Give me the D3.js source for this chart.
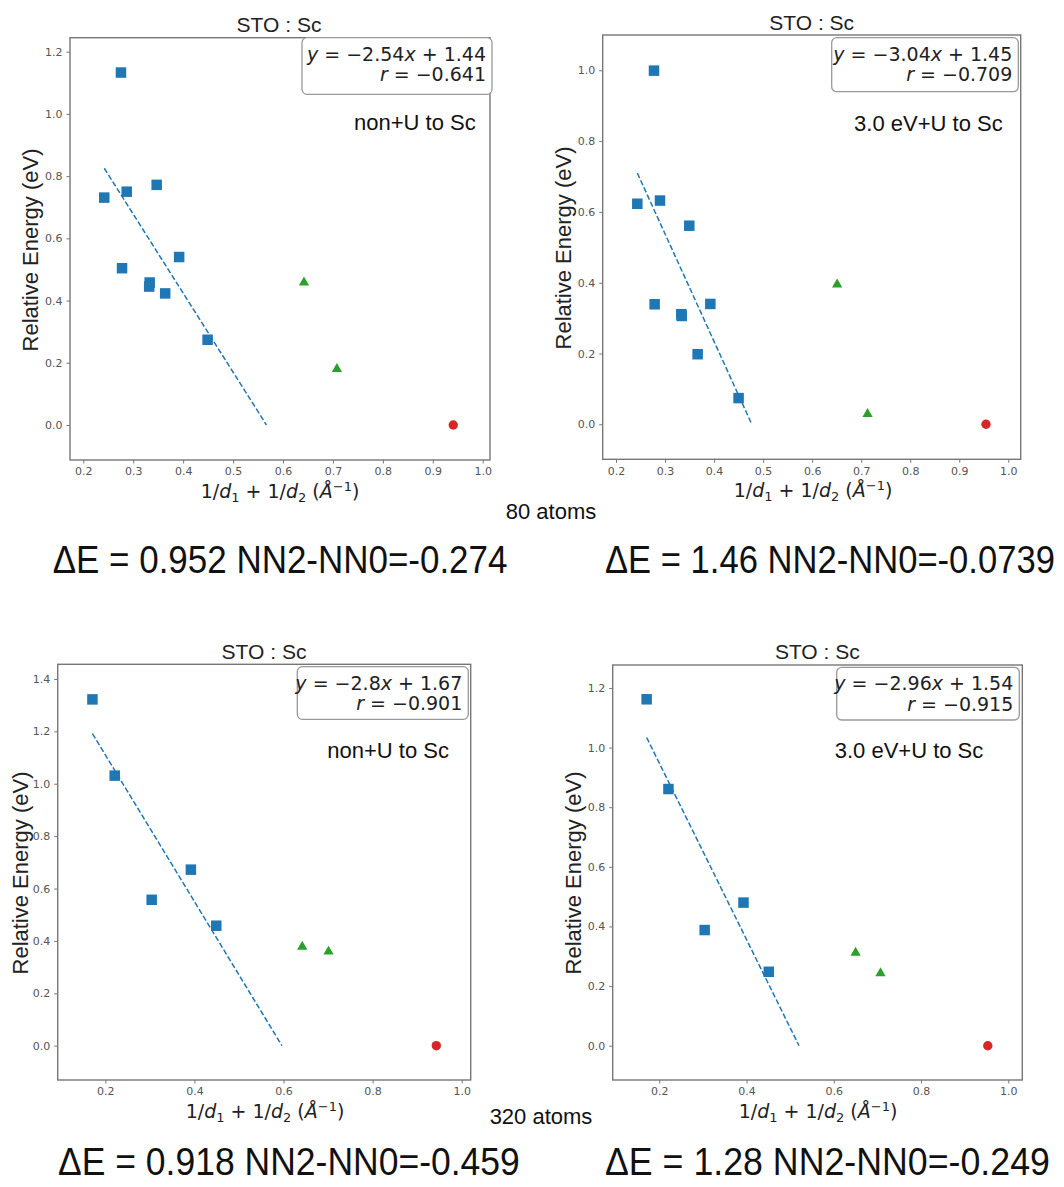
<!DOCTYPE html>
<html>
<head>
<meta charset="utf-8">
<script src="https://cdn.jsdelivr.net/npm/d3@7"></script>
<style>
  body { margin: 0; background: #fff; }
  svg { display: block; }
</style>
</head>
<body>
<div id="chart"></div>
<script>
// ---- data ----
const panelTitle = 'STO : Sc'
const methodLabels = ['non+U to Sc', '3.0 eV+U to Sc', 'non+U to Sc', '3.0 eV+U to Sc']
const atomLabels = ['80 atoms', '320 atoms']
const deltaTexts = [
  'ΔE = 0.952 NN2-NN0=-0.274',
  'ΔE = 1.46 NN2-NN0=-0.0739',
  'ΔE = 0.918 NN2-NN0=-0.459',
  'ΔE = 1.28 NN2-NN0=-0.249'
]

const slopes = [-2.54, -3.04, -2.8, -2.96]
const intercepts = [1.44, 1.45, 1.67, 1.54]
const rValues = ['−0.641', '−0.709', '−0.901', '−0.915']

const xTicks80 = [0.2, 0.3, 0.4, 0.5, 0.6, 0.7, 0.8, 0.9, 1.0]
const xTicks320 = [0.2, 0.4, 0.6, 0.8, 1.0]
const yTicks1 = [0, 0.2, 0.4, 0.6, 0.8, 1.0, 1.2]
const yTicks2 = [0, 0.2, 0.4, 0.6, 0.8, 1.0]
const yTicks3 = [0, 0.2, 0.4, 0.6, 0.8, 1.0, 1.2, 1.4]
const yTicks4 = [0, 0.2, 0.4, 0.6, 0.8, 1.0, 1.2]

// 80 atoms, non+U
const sqX1 = [0.2755, 0.242, 0.287, 0.347, 0.2776, 0.333, 0.332, 0.364, 0.392, 0.449]
const sqY1 = [1.133, 0.731, 0.750, 0.772, 0.504, 0.458, 0.445, 0.423, 0.540, 0.274]
const triX1 = [0.642, 0.708]
const triY1 = [0.458, 0.180]
const dotX1 = [0.941]
const dotY1 = [0]

// 80 atoms, 3.0 eV+U
const sqX2 = [0.2775, 0.2435, 0.2897, 0.3495, 0.2788, 0.3332, 0.334, 0.3665, 0.3924, 0.450]
const sqY2 = [0.999, 0.623, 0.632, 0.561, 0.339, 0.311, 0.306, 0.198, 0.340, 0.074]
const triX2 = [0.651, 0.713]
const triY2 = [0.395, 0.029]
const dotX2 = [0.9545]
const dotY2 = [0]

// 320 atoms, non+U
const sqX3 = [0.171, 0.221, 0.304, 0.392, 0.449]
const sqY3 = [1.322, 1.031, 0.557, 0.672, 0.458]
const triX3 = [0.642, 0.701]
const triY3 = [0.378, 0.359]
const dotX3 = [0.943]
const dotY3 = [0]

// 320 atoms, 3.0 eV+U
const sqX4 = [0.171, 0.221, 0.304, 0.393, 0.451]
const sqY4 = [1.162, 0.861, 0.388, 0.480, 0.248]
const triX4 = [0.650, 0.707]
const triY4 = [0.312, 0.243]
const dotX4 = [0.953]
const dotY4 = [0]

// ---- layout ----
const W = 1064, H = 1187
const blue = '#1f77b4', green = '#2ca02c', red = '#d62728'
const sans = '"Liberation Sans", Arial, Helvetica, sans-serif'
const math = '"DejaVu Sans", sans-serif'

const svg = d3.select('#chart')
  .append('svg')
  .attr('width', W)
  .attr('height', H)

const panels = [
  { l: 70, t: 37.7, r: 490, b: 460, xd: [0.1734, 1.0146], yd: [-0.1125, 1.245], xt: xTicks80, yt: yTicks1,
    sqX: sqX1, sqY: sqY1, triX: triX1, triY: triY1, dotX: dotX1, dotY: dotY1,
    titleX: 279, titleY: 31.5, box: [302, 37.7, 492, 94.3], noteX: 475.7, noteY: 130,
    ylabX: 37.5, ylabY: 250, xlabX: 280, xlabY: 498 },
  { l: 602.7, t: 35, r: 1020.7, b: 459.3, xd: [0.1729, 1.0253], yd: [-0.0989, 1.0997], xt: xTicks80, yt: yTicks2,
    sqX: sqX2, sqY: sqY2, triX: triX2, triY: triY2, dotX: dotX2, dotY: dotY2,
    titleX: 811.7, titleY: 30, box: [831.7, 37.7, 1018.3, 91.7], noteX: 1002.7, noteY: 130.7,
    ylabX: 570.8, ylabY: 248, xlabX: 813, xlabY: 497 },
  { l: 57.7, t: 664.3, r: 470.7, b: 1080, xd: [0.093, 1.0202], yd: [-0.131, 1.456], xt: xTicks320, yt: yTicks3,
    sqX: sqX3, sqY: sqY3, triX: triX3, triY: triY3, dotX: dotX3, dotY: dotY3,
    titleX: 264, titleY: 659.3, box: [297.3, 666.7, 468.3, 719.3], noteX: 449, noteY: 757.7,
    ylabX: 27.5, ylabY: 873, xlabX: 265, xlabY: 1118 },
  { l: 612.7, t: 665, r: 1022.3, b: 1080, xd: [0.0932, 1.0321], yd: [-0.115, 1.277], xt: xTicks320, yt: yTicks4,
    sqX: sqX4, sqY: sqY4, triX: triX4, triY: triY4, dotX: dotX4, dotY: dotY4,
    titleX: 817.3, titleY: 659.3, box: [836.7, 667.3, 1019.3, 720], noteX: 983.3, noteY: 757.7,
    ylabX: 581, ylabY: 873, xlabX: 818, xlabY: 1118 }
]

const fmt = d3.format('.1f')

panels.forEach((p, i) => {
  const x = d3.scaleLinear().domain(p.xd).range([p.l, p.r])
  const y = d3.scaleLinear().domain(p.yd).range([p.b, p.t])
  const g = svg.append('g')

  // frame
  g.append('rect')
    .attr('x', p.l).attr('y', p.t)
    .attr('width', p.r - p.l).attr('height', p.b - p.t)
    .attr('fill', '#fff')
    .attr('stroke', '#777')
    .attr('stroke-width', 1.4)

  // axes
  const xAxis = g.append('g')
    .attr('transform', `translate(0,${p.b})`)
    .call(d3.axisBottom(x).tickValues(p.xt).tickFormat(fmt).tickSize(3.5).tickPadding(4))
  const yAxis = g.append('g')
    .attr('transform', `translate(${p.l},0)`)
    .call(d3.axisLeft(y).tickValues(p.yt).tickFormat(fmt).tickSize(3.5).tickPadding(4))
  ;[xAxis, yAxis].forEach(a => {
    a.select('.domain').remove()
    a.selectAll('line').attr('stroke', '#777')
    a.selectAll('text')
      .attr('fill', '#555')
      .style('font-family', math)
      .style('font-size', '11px')
  })

  // fit line from smallest x to y = 0
  const a = slopes[i], b = intercepts[i]
  const x0 = d3.min(p.sqX), x1 = -b / a
  g.append('line')
    .attr('x1', x(x0)).attr('y1', y(a * x0 + b))
    .attr('x2', x(x1)).attr('y2', y(a * x1 + b))
    .attr('stroke', blue)
    .attr('stroke-width', 1.5)
    .attr('stroke-dasharray', '5.5,2.4')

  // markers
  const sq = 10.5
  g.selectAll('.sq')
    .data(p.sqX.map((v, k) => [v, p.sqY[k]]))
    .enter()
    .append('rect')
    .attr('x', d => x(d[0]) - sq / 2)
    .attr('y', d => y(d[1]) - sq / 2)
    .attr('width', sq).attr('height', sq)
    .attr('fill', blue)

  const tri = d3.symbol().type(d3.symbolTriangle).size(46)
  g.selectAll('.tri')
    .data(p.triX.map((v, k) => [v, p.triY[k]]))
    .enter()
    .append('path')
    .attr('d', tri)
    .attr('transform', d => `translate(${x(d[0])},${y(d[1])})`)
    .attr('fill', green)

  g.selectAll('.dot')
    .data(p.dotX.map((v, k) => [v, p.dotY[k]]))
    .enter()
    .append('circle')
    .attr('cx', d => x(d[0]))
    .attr('cy', d => y(d[1]))
    .attr('r', 4.7)
    .attr('fill', red)

  // title
  g.append('text')
    .attr('x', p.titleX).attr('y', p.titleY)
    .attr('text-anchor', 'middle')
    .style('font-family', sans)
    .style('font-size', '21px')
    .attr('fill', '#222')
    .text(panelTitle)

  // equation box
  const [bx0, by0, bx1, by1] = p.box
  g.append('rect')
    .attr('x', bx0).attr('y', by0)
    .attr('width', bx1 - bx0).attr('height', by1 - by0)
    .attr('rx', 5).attr('ry', 5)
    .attr('fill', '#fff')
    .attr('stroke', '#999')
    .attr('stroke-width', 1.3)

  const eq1 = g.append('text')
    .attr('x', bx1 - 6).attr('y', by0 + 23)
    .attr('text-anchor', 'end')
    .style('font-family', math)
    .style('font-size', '19px')
    .attr('fill', '#222')
  eq1.append('tspan').style('font-style', 'italic').text('y')
  eq1.append('tspan').text(' = ' + String(a).replace('-', '−'))
  eq1.append('tspan').style('font-style', 'italic').text('x')
  eq1.append('tspan').text(' + ' + b.toFixed(2))

  const eq2 = g.append('text')
    .attr('x', bx1 - 6).attr('y', by0 + 43.5)
    .attr('text-anchor', 'end')
    .style('font-family', math)
    .style('font-size', '19px')
    .attr('fill', '#222')
  eq2.append('tspan').style('font-style', 'italic').text('r')
  eq2.append('tspan').text(' = ' + rValues[i])

  // method note
  g.append('text')
    .attr('x', p.noteX).attr('y', p.noteY)
    .attr('text-anchor', 'end')
    .style('font-family', sans)
    .style('font-size', '22px')
    .attr('fill', '#111')
    .text(methodLabels[i])

  // y label
  g.append('text')
    .attr('transform', `translate(${p.ylabX},${p.ylabY}) rotate(-90)`)
    .attr('text-anchor', 'middle')
    .style('font-family', sans)
    .style('font-size', '22px')
    .attr('fill', '#222')
    .text('Relative Energy (eV)')

  // x label: 1/d1 + 1/d2 (Å^-1)
  const xl = g.append('text')
    .attr('x', p.xlabX).attr('y', p.xlabY)
    .attr('text-anchor', 'middle')
    .style('font-family', math)
    .style('font-size', '19px')
    .attr('fill', '#222')
  xl.append('tspan').text('1/')
  xl.append('tspan').style('font-style', 'italic').text('d')
  xl.append('tspan').attr('dy', 4).style('font-size', '13px').text('1')
  xl.append('tspan').attr('dy', -4).text(' + 1/')
  xl.append('tspan').style('font-style', 'italic').text('d')
  xl.append('tspan').attr('dy', 4).style('font-size', '13px').text('2')
  xl.append('tspan').attr('dy', -4).text(' (')
  xl.append('tspan').style('font-style', 'italic').text('Å')
  xl.append('tspan').attr('dy', -7).style('font-size', '13px').text('−1')
  xl.append('tspan').attr('dy', 7).text(')')
})

// row captions
svg.selectAll('.atoms')
  .data(atomLabels)
  .enter()
  .append('text')
  .attr('x', (d, i) => i === 0 ? 551 : 541)
  .attr('y', (d, i) => i === 0 ? 519.3 : 1124)
  .attr('text-anchor', 'middle')
  .style('font-family', sans)
  .style('font-size', '22px')
  .attr('fill', '#111')
  .text(d => d)

// big summary lines: narrow look, squeezed horizontally to the reference width
const deltaPos = [[52.7, 572.7, 455], [605, 572.7, 450], [58, 1175, 462], [605, 1175, 445]]
svg.selectAll('.delta')
  .data(deltaTexts)
  .enter()
  .append('text')
  .attr('class', 'delta')
  .style('font-family', sans)
  .style('font-size', '38px')
  .attr('fill', '#111')
  .text(d => d)
  .each(function (d, i) {
    const w = this.getComputedTextLength()
    const sx = deltaPos[i][2] / w
    d3.select(this).attr('transform', `translate(${deltaPos[i][0]},${deltaPos[i][1]}) scale(${sx},1)`)
  })
</script>
</body>
</html>
